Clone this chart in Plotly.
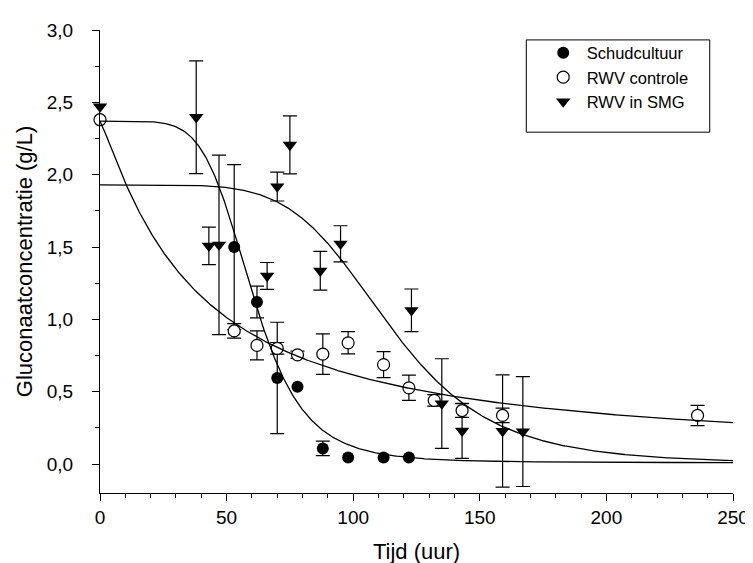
import numpy as np
import plotly.graph_objects as go

# ---- data ----
schud_x = [53, 62, 70, 78, 88, 98, 112, 122]
schud_y = [1.50, 1.12, 0.595, 0.535, 0.108, 0.046, 0.046, 0.046]
schud_err = [0.57, 0.11, 0.385, 0, 0.05, 0, 0, 0]

ctrl_x = [0, 53, 62, 70, 78, 88, 98, 112, 122, 132, 143, 159, 236]
ctrl_y = [2.38, 0.92, 0.82, 0.80, 0.755, 0.76, 0.838, 0.687, 0.527, 0.44, 0.37, 0.336, 0.336]
ctrl_err = [0, 0.05, 0.10, 0.04, 0.025, 0.14, 0.077, 0.09, 0.087, 0.04, 0.047, 0.05, 0.07]

smg_x = [0, 38, 43, 47, 66, 70, 75, 87, 95, 123, 135, 143, 159, 167]
smg_y = [2.47, 2.397, 1.508, 1.515, 1.30, 1.918, 2.206, 1.336, 1.522, 1.063, 0.418, 0.23, 0.228, 0.225]
smg_err = [0, 0.39, 0.13, 0.62, 0.093, 0.10, 0.20, 0.134, 0.125, 0.147, 0.31, 0.19, 0.388, 0.38]

# Hill-type fitted curves: (top, bottom, midpoint, slope)
schud_fit = (2.37, 0.01, 60.0, 5.9)
ctrl_fit = (2.37, 0.05, 37.0, 1.14)
smg_fit = (1.93, 0.0, 114.0, 5.6)

x_ticks = [0, 50, 100, 150, 200, 250]
y_ticks = [0.0, 0.5, 1.0, 1.5, 2.0, 2.5, 3.0]
legend_names = ["Schudcultuur", "RWV controle", "RWV in SMG"]

FONT = "Liberation Sans, Arial, sans-serif"

# plot-area geometry (pixels) used to place the legend frame
L, R, T, B = 91.5, 16.3, 22, 74.3
W, H = 753, 563
PW, PH = W - L - R, H - T - B


def px_to_paper(x, y):
    return (x - L) / PW, (H - B - y) / PH


def hill(x, p):
    top, bottom, c, n = p
    x = np.asarray(x, dtype=float)
    return bottom + (top - bottom) / (1.0 + (x / c) ** n)


xf = np.linspace(0, 250, 600)

fig = go.Figure()


def err_trace(xs, ys, es):
    idx = [i for i, e in enumerate(es) if e > 0]
    return go.Scatter(
        x=[xs[i] for i in idx], y=[ys[i] for i in idx], mode="markers",
        marker=dict(size=1, color="rgba(0,0,0,0)"),
        error_y=dict(type="data", array=[es[i] for i in idx], color="black",
                     thickness=1.2, width=7),
        showlegend=False, hoverinfo="skip", cliponaxis=False)


# error bars
fig.add_trace(err_trace(schud_x, schud_y, schud_err))
fig.add_trace(err_trace(ctrl_x, ctrl_y, ctrl_err))
fig.add_trace(err_trace(smg_x, smg_y, smg_err))

# markers
fig.add_trace(go.Scatter(x=schud_x, y=schud_y, mode="markers", name=legend_names[0],
                         marker=dict(symbol="circle", size=12, color="black",
                                     line=dict(width=0)),
                         cliponaxis=False))
fig.add_trace(go.Scatter(x=ctrl_x, y=ctrl_y, mode="markers", name=legend_names[1],
                         marker=dict(symbol="circle", size=12, color="white",
                                     line=dict(width=1.2, color="black")),
                         cliponaxis=False))
fig.add_trace(go.Scatter(x=smg_x, y=smg_y, mode="markers", name=legend_names[2],
                         marker=dict(symbol="triangle-down", size=12.5, color="black",
                                     line=dict(width=0)),
                         cliponaxis=False))

# fitted curves
for p in (schud_fit, ctrl_fit, smg_fit):
    fig.add_trace(go.Scatter(x=xf, y=hill(xf, p), mode="lines",
                             line=dict(color="black", width=1.3),
                             showlegend=False, hoverinfo="skip"))

# legend frame
bx0, by0 = px_to_paper(526, 125)
bx1, by1 = px_to_paper(713, 32)
fig.add_shape(type="rect", xref="paper", yref="paper", x0=bx0, x1=bx1, y0=by0, y1=by1,
              line=dict(color="black", width=1), fillcolor="rgba(0,0,0,0)", layer="below")

lx, ly = px_to_paper(539.7, 27.5)

fig.update_layout(
    width=W, height=H,
    margin=dict(l=L, r=R, t=T, b=B),
    paper_bgcolor="white", plot_bgcolor="white",
    separators=",.",
    font=dict(family=FONT, size=18, color="black"),
    legend=dict(x=lx, y=ly, xanchor="left", yanchor="top",
                borderwidth=0, bgcolor="rgba(0,0,0,0)",
                font=dict(family=FONT, size=16.5, color="black"),
                itemwidth=37, tracegroupgap=0),
)
fig.update_xaxes(
    range=[0, 250], tickvals=x_ticks, ticks="outside", ticklen=7, tickwidth=1,
    tickcolor="black", showline=True, linecolor="black", linewidth=1,
    showgrid=False, zeroline=False, tickfont=dict(size=19),
    minor=dict(dtick=10, ticks="outside", ticklen=4, tickcolor="black", showgrid=False),
    title=dict(text="Tijd (uur)", font=dict(size=22), standoff=16),
)
fig.update_yaxes(
    range=[-0.2, 3.0], tickvals=y_ticks, tickformat=".1f", ticks="outside", ticklen=7,
    tickwidth=1, tickcolor="black", showline=True, linecolor="black", linewidth=1,
    showgrid=False, zeroline=False, tickfont=dict(size=19), ticklabelstandoff=15,
    minor=dict(dtick=0.25, tick0=0, ticks="outside", ticklen=4, tickcolor="black",
               showgrid=False),
    title=dict(text="Gluconaatconcentratie (g/L)", font=dict(size=22), standoff=8),
)

fig.write_html("out.html")
